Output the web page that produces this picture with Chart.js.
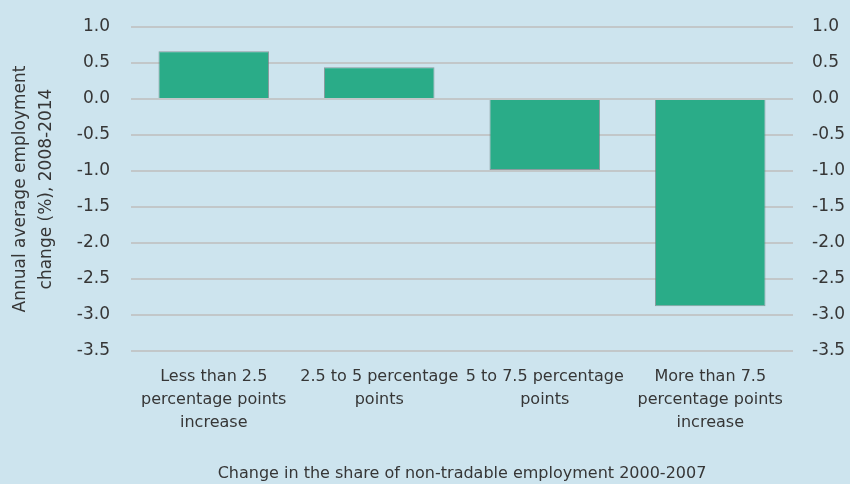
<!DOCTYPE html>
<html>
<head>
<meta charset="utf-8">
<script src="https://cdn.jsdelivr.net/npm/chart.js@4/dist/chart.umd.min.js"></script>
<style>
  html, body { margin: 0; padding: 0; background: #cde4ee; overflow: hidden; }
</style>
</head>
<body>
<canvas id="chart" width="850" height="484"></canvas>
<script>
const categories = [
  ["Less than 2.5", "percentage points", "increase"],
  ["2.5 to 5 percentage", "points"],
  ["5 to 7.5 percentage", "points"],
  ["More than 7.5", "percentage points", "increase"]
];
const employmentChange = [0.663, 0.44, -0.985, -2.88];
const yMin = -3.5;
const yMax = 1.0;
const yStep = 0.5;
const yTitle = ["Annual average employment", "change (%), 2008-2014"];
const xTitle = "Change in the share of non-tradable employment 2000-2007";

const textColor = "#363636";
const gridColor = "#c2c7c9";
const fontFamily = "'DejaVu Sans', sans-serif";

const fmt = (v) => Number(v).toFixed(1);

// fixed width, and drop the label overhang (it includes tick padding and pushes the top down)
const fitY = (w) => (s) => {
  s.width = w;
  s.paddingTop = 0;
  s.paddingBottom = 0;
};

new Chart(document.getElementById("chart"), {
  type: "bar",
  data: {
    labels: categories,
    datasets: [{
      data: employmentChange,
      backgroundColor: "#2aac88",
      borderColor: "rgba(110,125,125,0.7)",
      borderWidth: 1,
      barPercentage: 0.668,
      categoryPercentage: 1.0,
      yAxisID: "y"
    }]
  },
  options: {
    responsive: false,
    animation: false,
    layout: { padding: { top: 27, left: 0, right: 0, bottom: 0 } },
    plugins: { legend: { display: false }, tooltip: { enabled: false } },
    scales: {
      x: {
        grid: { display: false, drawTicks: false },
        border: { display: false },
        ticks: {
          color: textColor,
          padding: 14,
          maxRotation: 0,
          autoSkip: false,
          font: { family: fontFamily, size: 16, lineHeight: 1.44 }
        },
        title: {
          display: true,
          text: xTitle,
          color: textColor,
          padding: { top: 0, bottom: 1 },
          font: { family: fontFamily, size: 16 }
        },
        afterFit: (s) => { s.height = 133; }
      },
      y: {
        position: "left",
        min: yMin,
        max: yMax,
        grid: { color: gridColor, lineWidth: 2, drawTicks: false },
        border: { display: false },
        ticks: {
          stepSize: yStep,
          color: textColor,
          padding: 21,
          callback: fmt,
          font: { family: fontFamily, size: 17 }
        },
        title: {
          display: true,
          text: yTitle,
          color: textColor,
          padding: { top: 8, bottom: 0 },
          font: { family: fontFamily, size: 17, lineHeight: 1.53 }
        },
        afterFit: fitY(131)
      },
      y2: {
        position: "right",
        min: yMin,
        max: yMax,
        grid: { display: false, drawTicks: false },
        border: { display: false },
        ticks: {
          stepSize: yStep,
          color: textColor,
          padding: 19,
          callback: fmt,
          font: { family: fontFamily, size: 17 }
        },
        afterFit: fitY(57)
      }
    }
  }
});
</script>
</body>
</html>
